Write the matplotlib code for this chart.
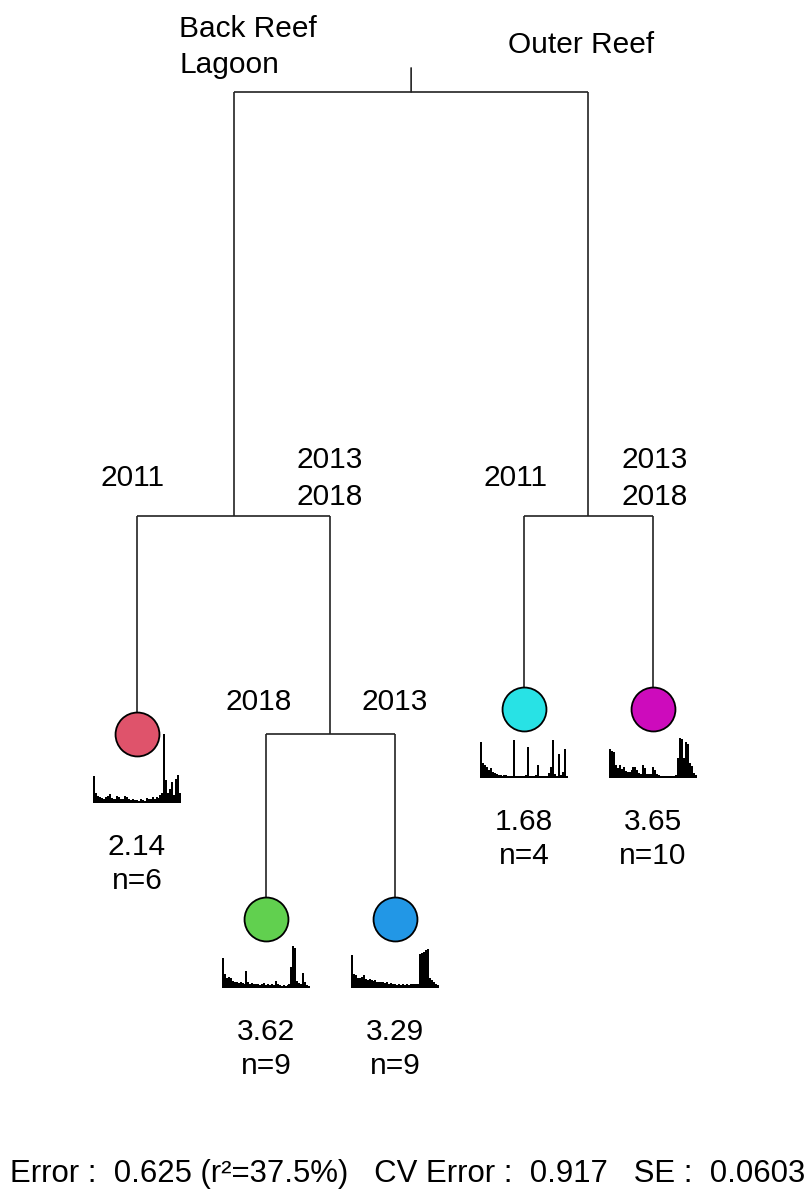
import numpy as np
import matplotlib.pyplot as plt

plt.rcParams['font.family'] = ['Liberation Sans', 'DejaVu Sans']

# leaves in plotting order
leaf_means = ["2.14", "3.62", "3.29", "1.68", "3.65"]
leaf_n = [6, 9, 9, 4, 10]
leaf_colors = ["#DF536B", "#61D04F", "#2297E6", "#28E2E5", "#CD0BBC"]

# relative error reduction of each split
gain_habitat = 0.156
gain_back_year = 0.080
gain_back_2018 = 0.068
gain_outer_year = 0.071

# mean species profiles per leaf (common scale)
profile_red = [0.39, 0.15, 0.10, 0.08, 0.07, 0.06, 0.08, 0.10, 0.13, 0.07,
               0.05, 0.06, 0.10, 0.08, 0.05, 0.06, 0.10, 0.09, 0.05, 0.04,
               0.05, 0.04, 0.04, 0.03, 0.05, 0.04, 0.03, 0.07, 0.06, 0.05,
               0.08, 0.06, 0.09, 0.07, 0.12, 0.15, 1.00, 0.33, 0.15, 0.20,
               0.30, 0.12, 0.35, 0.40, 0.15]
profile_green = [0.43, 0.20, 0.15, 0.16, 0.14, 0.10, 0.08, 0.09, 0.07, 0.08,
                 0.07, 0.06, 0.25, 0.08, 0.06, 0.07, 0.05, 0.06, 0.05, 0.04,
                 0.05, 0.07, 0.04, 0.05, 0.04, 0.06, 0.04, 0.10, 0.05, 0.04,
                 0.03, 0.04, 0.03, 0.04, 0.05, 0.30, 0.60, 0.58, 0.10, 0.07,
                 0.06, 0.22, 0.08, 0.04, 0.03]
profile_blue = [0.47, 0.20, 0.18, 0.15, 0.14, 0.16, 0.19, 0.13, 0.12, 0.13,
                0.11, 0.10, 0.12, 0.09, 0.08, 0.09, 0.08, 0.07, 0.08, 0.06,
                0.07, 0.05, 0.05, 0.04, 0.05, 0.04, 0.05, 0.04, 0.05, 0.04,
                0.06, 0.05, 0.06, 0.05, 0.06, 0.49, 0.50, 0.52, 0.55, 0.57,
                0.15, 0.12, 0.08, 0.06, 0.04]
profile_cyan = [0.53, 0.22, 0.19, 0.17, 0.12, 0.145, 0.10, 0.08, 0.07, 0.05,
                0.05, 0.04, 0.05, 0.05, 0.04, 0.04, 0.03, 0.56, 0.04, 0.03,
                0.04, 0.03, 0.04, 0.05, 0.46, 0.04, 0.03, 0.04, 0.05, 0.20,
                0.04, 0.03, 0.03, 0.04, 0.03, 0.08, 0.17, 0.56, 0.06, 0.04,
                0.36, 0.05, 0.10, 0.43, 0.04]
profile_magenta = [0.43, 0.40, 0.38, 0.19, 0.15, 0.20, 0.14, 0.17, 0.11, 0.10,
                   0.09, 0.12, 0.17, 0.16, 0.12, 0.08, 0.07, 0.19, 0.15, 0.07,
                   0.06, 0.07, 0.17, 0.12, 0.06, 0.05, 0.04, 0.04, 0.03, 0.04,
                   0.04, 0.03, 0.04, 0.04, 0.05, 0.29, 0.59, 0.57, 0.29, 0.53,
                   0.50, 0.22, 0.18, 0.08, 0.05]
profiles = [profile_red, profile_green, profile_blue, profile_cyan, profile_magenta]

# split: (gain, left label, right label, label offsets in px, left, right)
tree = (gain_habitat, "Back Reef\nLagoon", "Outer Reef", ((-232, 45, "left"), (97, 47, "left")),
        (gain_back_year, "2011", "2013\n2018", ((-101, 38, "center"), (96, 38, "center")),
         0,
         (gain_back_2018, "2018", "2013", ((-72, 32, "center"), (64, 32, "center")), 1, 2)),
        (gain_outer_year, "2011", "2013\n2018", ((-73, 38, "center"), (66, 38, "center")), 3, 4))

W, H = 808, 1189
fig = plt.figure(figsize=(W / 100, H / 100), dpi=100)
ax = fig.add_axes([0, 0, 1, 1])
ax.set_xlim(-1.062, 5.2016)
ax.set_ylim(0.4033, -0.0338)
ax.axis("off")

line_kw = dict(color="#222222", lw=1.2, solid_capstyle="butt")
text_kw = dict(fontsize=21.5, textcoords="offset pixels", va="center", linespacing=1.4)
leaf_pos = {}


def draw(node, depth):
    if isinstance(node, int):
        leaf_pos[node] = (node, depth)
        return node
    gain, lab_l, lab_r, offs, left, right = node
    xl = draw(left, depth + gain)
    xr = draw(right, depth + gain)
    x = (xl + xr) / 2
    ax.plot([xl, xr], [depth, depth], **line_kw)
    ax.plot([xl, xl], [depth, depth + gain], **line_kw)
    ax.plot([xr, xr], [depth, depth + gain], **line_kw)
    for lab, (dx, dy, ha) in zip((lab_l, lab_r), offs):
        ax.annotate(lab, (x, depth), xytext=(dx, dy), ha=ha, multialignment=ha, **text_kw)
    return x


root_x = draw(tree, 0.0)
ax.annotate("", (root_x, 0.0), xytext=(0, 24), textcoords="offset pixels",
            arrowprops=dict(arrowstyle="-", color="#222222", lw=1.2, shrinkA=0, shrinkB=0))

for i, (lx, ly) in leaf_pos.items():
    ax.scatter([lx], [ly], s=1000, color=leaf_colors[i], edgecolor="black", linewidth=1.3, zorder=3)
    ax.annotate(leaf_means[i], (lx, ly), xytext=(0, -113), ha="center", **text_kw)
    ax.annotate(f"n={leaf_n[i]}", (lx, ly), xytext=(0, -147), ha="center", **text_kw)

    px, py = ax.transData.transform((lx, ly))
    sub = fig.add_axes([(px - 44) / W, (py - 69) / H, 88 / W, 69 / H])
    sub.bar(np.arange(len(profiles[i])), profiles[i], width=1.0, color="black", linewidth=0)
    sub.set_xlim(-0.5, len(profiles[i]) - 0.5)
    sub.set_ylim(0, 1.0)
    sub.axis("off")

fig.text(10 / W, 1 - 1174 / H,
         "Error :  0.625 (r²=37.5%)   CV Error :  0.917   SE :  0.0603",
         fontsize=22.4, va="center", ha="left")

fig.savefig("out.png", dpi=100)
